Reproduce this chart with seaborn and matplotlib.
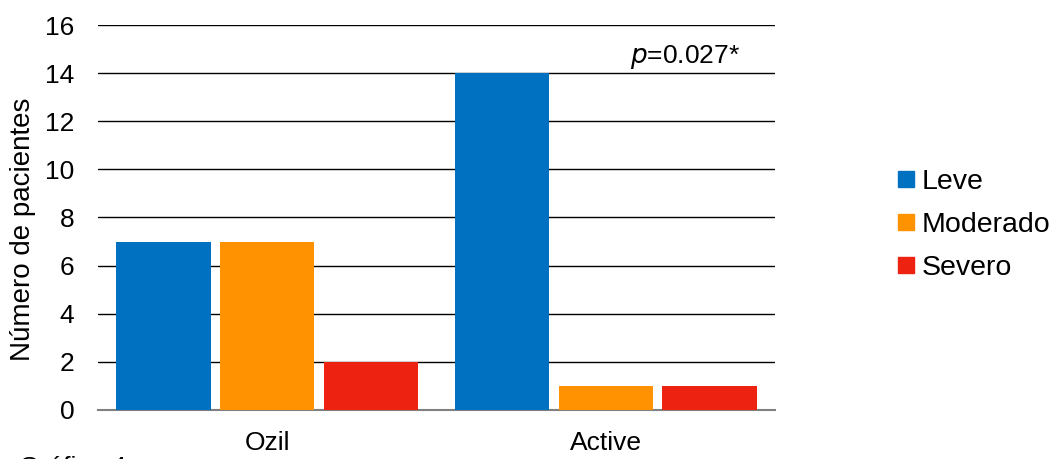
import matplotlib
matplotlib.use("Agg")
import matplotlib.pyplot as plt
import seaborn as sns
import pandas as pd
from matplotlib.lines import Line2D

groups = ["Ozil", "Active"]
severities = ["Leve", "Moderado", "Severo"]
leve = [7, 14]
moderado = [7, 1]
severo = [2, 1]
yticks = [0, 2, 4, 6, 8, 10, 12, 14, 16]
colors = ["#0070C0", "#FF9200", "#EE2211"]

rows = []
for i, g in enumerate(groups):
    for s, vals in zip(severities, [leve, moderado, severo]):
        rows.append({"Grupo": g, "Severidad": s, "n": vals[i]})
df = pd.DataFrame(rows)

sns.set_theme(style="white")
plt.rcParams['font.family'] = ['Liberation Sans', 'DejaVu Sans']
plt.rcParams['text.color'] = 'black'

fig = plt.figure(figsize=(10.58, 4.59), dpi=100)
ax = fig.add_axes([0.0926, 0.107, 0.640, 0.8385])

sns.barplot(data=df, x="Grupo", y="n", hue="Severidad", order=groups,
            hue_order=severities, palette=colors, width=0.92, gap=0.09,
            saturation=1, ax=ax, legend=False, linewidth=0, zorder=3)

ax.set_ylim(0, 16)
ax.set_xlim(-0.5, 1.5)
ax.set_yticks(yticks)
ax.set_yticklabels([str(t) for t in yticks])
ax.yaxis.grid(True, color="black", linewidth=1.0, zorder=0)
ax.set_axisbelow(True)
for sp in ["top", "right", "left"]:
    ax.spines[sp].set_visible(False)
ax.spines["bottom"].set_color("#808080")
ax.spines["bottom"].set_linewidth(1.5)
ax.tick_params(axis="y", length=0, pad=17, labelsize=19, labelcolor="black")
ax.tick_params(axis="x", length=0, pad=15, labelsize=19, labelcolor="black")
ax.set_xlabel("")
ax.set_ylabel("Número de pacientes", fontsize=20, color="black")
ax.yaxis.set_label_coords(-0.091, 0.47)

ax.text(1.072, 14.1, r"$p$=0.027*", fontsize=19, ha="left", va="bottom",
        color="black")

hs = [Line2D([], [], marker="s", linestyle="", color=c, markersize=12) for c in colors]
ax.legend(hs, severities, loc="center left", bbox_to_anchor=(1.155, 0.48),
          frameon=False, fontsize=20.5, handletextpad=0.05, labelspacing=0.6,
          handlelength=1.0, borderaxespad=0.0)

fig.text(0.018, -0.045, "Gráfico 4", fontsize=19, ha="left", va="bottom",
         color="black")

fig.savefig("out.png", dpi=100)
